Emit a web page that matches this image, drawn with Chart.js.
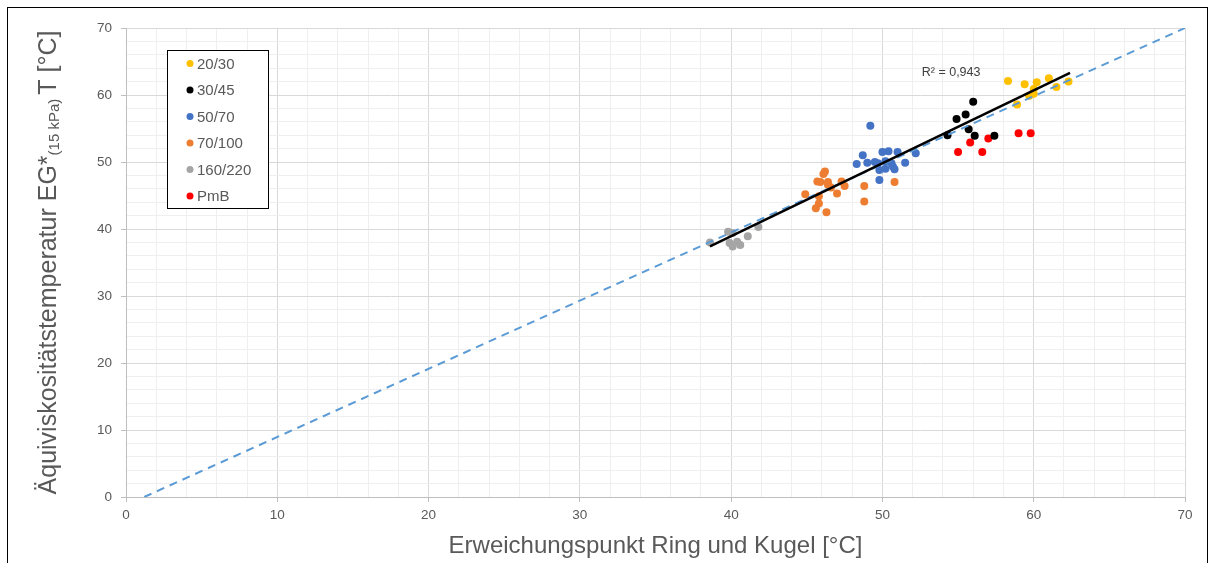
<!DOCTYPE html>
<html>
<head>
<meta charset="utf-8">
<script src="https://cdn.jsdelivr.net/npm/chart.js@4/dist/chart.umd.min.js"></script>
<style>
body{margin:0;background:#fff;}
#wrap{position:relative;width:1215px;height:563px;overflow:hidden;}
#frame{position:absolute;left:7px;top:7px;width:1199px;height:600px;border:1px solid #000;}
canvas{position:absolute;left:0;top:0;}
</style>
</head>
<body>
<div id="wrap"><div id="frame"></div><canvas id="chart" width="1215" height="563"></canvas></div>
<script>
// Sorten / Farben
const labels = ['20/30', '30/45', '50/70', '70/100', '160/220', 'PmB'];
const colors = ['#FFC000', '#000000', '#4472C4', '#ED7D31', '#A5A5A5', '#FF0000'];

// Messwerte: Erweichungspunkt RuK (x) / Äquiviskositätstemperatur (y)
const x2030 = [58.3, 59.4, 60.2, 61.0, 61.5, 62.3, 58.9, 59.7, 60.0, 60.0];
const y2030 = [62.1, 61.6, 61.9, 62.5, 61.2, 62.0, 58.6, 59.9, 60.2, 60.9];
const x3045 = [56.0, 54.9, 55.5, 55.7, 56.1, 57.4, 54.3];
const y3045 = [59.0, 56.4, 57.1, 54.9, 53.9, 53.9, 54.0];
const x5070 = [49.2, 48.7, 48.3, 49.0, 50.0, 50.4, 51.0, 52.2, 51.5, 49.7, 50.2, 50.6, 50.7, 50.2, 49.8, 50.8, 49.8, 49.5];
const y5070 = [55.4, 51.0, 49.7, 49.9, 51.5, 51.6, 51.5, 51.3, 49.9, 49.8, 50.1, 49.8, 49.3, 49.0, 48.8, 48.9, 47.3, 50.0];
const x70100 = [46.2, 46.1, 45.7, 45.9, 46.4, 47.3, 47.5, 46.6, 47.0, 44.9, 45.8, 48.8, 48.8, 45.8, 45.6, 46.3, 50.8, 46.4];
const y70100 = [48.6, 48.2, 47.1, 47.0, 47.0, 47.1, 46.4, 46.2, 45.3, 45.2, 44.9, 46.4, 44.1, 43.8, 43.1, 42.5, 47.0, 46.6];
const x160220 = [38.6, 39.8, 40.1, 39.9, 40.4, 40.1, 40.6, 41.1, 41.8];
const y160220 = [38.0, 39.6, 39.4, 37.9, 38.1, 37.4, 37.6, 38.9, 40.3];
const xPmB = [55.0, 55.8, 56.6, 57.0, 59.0, 59.8];
const yPmB = [51.5, 52.9, 51.5, 53.5, 54.3, 54.3];

// Trendlinie (linear, R² = 0,943) und Winkelhalbierende (gestrichelt)
const trendX = [38.6, 62.4];
const trendY = [37.4, 63.3];
const diagX = [1.2, 70];
const diagY = [0, 70];
const r2Text = 'R² = 0,943';
const r2Pos = [52.6, 63.4];

// Achsen
const tickLabels = [0, 10, 20, 30, 40, 50, 60, 70];
const xTitle = 'Erweichungspunkt Ring und Kugel [°C]';
const yTitle = ['Äquiviskositätstemperatur EG*', '(15 kPa)', 'T [°C]'];

const FONT = '"Liberation Sans", Arial, sans-serif';
const TXT = '#595959';

function pts(xs, ys) {
    return xs.map((x, i) => ({ x: x, y: ys[i] }));
}

const series = [x2030, x3045, x5070, x70100, x160220, xPmB];
const seriesY = [y2030, y3045, y5070, y70100, y160220, yPmB];

const datasets = [
    {
        label: 'Trend',
        data: pts(trendX, trendY),
        showLine: true,
        borderColor: '#000',
        borderWidth: 2.5,
        pointRadius: 0,
        order: 0
    },
    {
        label: 'Diagonale',
        data: pts(diagX, diagY),
        showLine: true,
        borderColor: '#5B9BD5',
        borderWidth: 2,
        borderDash: [8, 6],
        pointRadius: 0,
        order: 1
    }
];
labels.forEach((l, i) => {
    datasets.push({
        label: l,
        data: pts(series[i], seriesY[i]),
        backgroundColor: colors[i],
        borderColor: colors[i],
        pointRadius: 4,
        pointBorderWidth: 0,
        order: 2
    });
});

// Legende, Achsentitel und R² direkt auf die Leinwand zeichnen
const overlay = {
    id: 'overlay',
    afterDraw(chart) {
        const c = chart.ctx;
        const xs = chart.scales.x, ys = chart.scales.y;
        c.save();

        // Legende
        c.fillStyle = '#fff';
        c.fillRect(167, 50, 101, 158);
        c.strokeStyle = '#000';
        c.lineWidth = 1;
        c.strokeRect(167.5, 50.5, 101, 158);
        c.font = '15px ' + FONT;
        c.textBaseline = 'middle';
        c.textAlign = 'left';
        labels.forEach((l, i) => {
            const y = 63.5 + i * 26.5;
            c.fillStyle = colors[i];
            c.beginPath();
            c.arc(190, y, 3.5, 0, Math.PI * 2);
            c.fill();
            c.fillStyle = TXT;
            c.fillText(l, 197, y + 1);
        });

        // R²
        c.font = '12.5px ' + FONT;
        c.fillStyle = '#404040';
        c.fillText(r2Text, xs.getPixelForValue(r2Pos[0]), ys.getPixelForValue(r2Pos[1]));

        // x-Titel
        c.font = '24px ' + FONT;
        c.fillStyle = TXT;
        c.textAlign = 'center';
        c.textBaseline = 'alphabetic';
        c.fillText(xTitle, (chart.chartArea.left + chart.chartArea.right) / 2, 553);

        // y-Titel mit Index
        const big = '25px ' + FONT, small = '15px ' + FONT;
        const gap = 4;
        c.font = big;
        const w1 = c.measureText(yTitle[0]).width;
        const w3 = c.measureText(yTitle[2]).width;
        c.font = small;
        const w2 = c.measureText(yTitle[1]).width;
        const total = w1 + w2 + gap + w3;
        const cy = (chart.chartArea.top + chart.chartArea.bottom) / 2;
        c.translate(56, cy);
        c.rotate(-Math.PI / 2);
        c.textAlign = 'left';
        let x = -total / 2;
        c.font = big;
        c.fillText(yTitle[0], x, 0);
        x += w1;
        c.font = small;
        c.fillText(yTitle[1], x, 3);
        x += w2 + gap;
        c.font = big;
        c.fillText(yTitle[2], x, 0);
        c.restore();
    }
};

function gridColor(ctx) {
    if (!ctx.tick) return '#d9d9d9';
    return ctx.tick.value % 10 === 0 ? '#d9d9d9' : '#efefef';
}
function tickColor(ctx) {
    if (!ctx.tick) return '#bfbfbf';
    return ctx.tick.value % 10 === 0 ? '#bfbfbf' : 'rgba(0,0,0,0)';
}
function tickCb(v) {
    return tickLabels.includes(v) ? v : '';
}

new Chart(document.getElementById('chart').getContext('2d'), {
    type: 'scatter',
    data: { datasets: datasets },
    options: {
        responsive: false,
        animation: false,
        layout: { padding: { left: 0, top: 28, right: 30, bottom: 0 } },
        plugins: {
            legend: { display: false },
            tooltip: { enabled: false }
        },
        scales: {
            x: {
                type: 'linear',
                min: 0,
                max: 70,
                ticks: {
                    stepSize: 2,
                    autoSkip: false,
                    maxRotation: 0,
                    callback: tickCb,
                    color: TXT,
                    padding: 5,
                    font: { family: FONT, size: 13.5 }
                },
                grid: { color: gridColor, tickColor: tickColor, tickLength: 5 },
                border: { color: '#bfbfbf' },
                afterFit: (s) => { s.height = 66; }
            },
            y: {
                type: 'linear',
                min: 0,
                max: 70,
                ticks: {
                    stepSize: 2,
                    autoSkip: false,
                    callback: tickCb,
                    color: TXT,
                    padding: 9,
                    font: { family: FONT, size: 13.5 }
                },
                grid: { color: gridColor, tickColor: tickColor, tickLength: 5 },
                border: { color: '#bfbfbf' },
                afterFit: (s) => { s.width = 126; }
            }
        }
    },
    plugins: [overlay]
});
</script>
</body>
</html>
